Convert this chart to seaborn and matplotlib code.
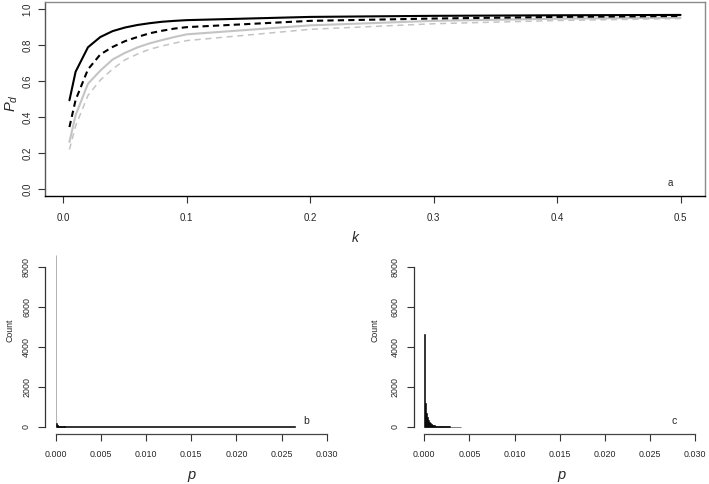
import numpy as np
import pandas as pd
import matplotlib
matplotlib.use("Agg")
import matplotlib.pyplot as plt
import seaborn as sns

sns.set_style("ticks")
plt.rcParams['font.family'] = ['Liberation Sans', 'DejaVu Sans']
plt.rcParams['mathtext.fontset'] = 'custom'
plt.rcParams['mathtext.it'] = 'Liberation Sans:italic'
plt.rcParams['mathtext.rm'] = 'Liberation Sans'

# panel a: detection probability P_d against k, four scenarios
k = [0.005, 0.01, 0.02, 0.03, 0.04, 0.05, 0.06, 0.07, 0.08, 0.09, 0.1, 0.2, 0.3, 0.4, 0.5]
pd_black_solid = [0.493, 0.652, 0.788, 0.845, 0.878, 0.898, 0.912, 0.922, 0.930, 0.935, 0.939, 0.957, 0.963, 0.966, 0.968]
pd_black_dash = [0.344, 0.495, 0.665, 0.748, 0.790, 0.822, 0.845, 0.866, 0.880, 0.892, 0.900, 0.935, 0.948, 0.957, 0.962]
pd_grey_solid = [0.261, 0.410, 0.585, 0.658, 0.720, 0.757, 0.787, 0.810, 0.828, 0.845, 0.860, 0.910, 0.935, 0.947, 0.953]
pd_grey_dash = [0.219, 0.350, 0.520, 0.605, 0.667, 0.718, 0.750, 0.777, 0.795, 0.811, 0.825, 0.888, 0.919, 0.937, 0.948]

# panel b: histogram of p (fine bins near zero, one long near-empty tail bin)
b_bin_width = 0.00005
b_counts = [8600, 180, 120, 90, 70, 55, 45, 38, 32, 27, 23, 20, 17, 15, 13, 12, 11, 10, 9, 8]
b_tail_end = 0.0265
b_tail_count = 10

# panel c: histogram of p
c_bin_width = 0.0001
c_counts = [4650, 1200, 700, 460, 330, 250, 190, 150, 120, 98, 80, 67, 56, 48, 41, 35, 30, 26, 23, 20,
            18, 16, 14, 12, 11, 10, 9, 8, 7, 6, 6, 5, 5, 4, 4, 3, 3, 3, 2, 2, 2]

W, H = 709, 484
fig = plt.figure(figsize=(W / 100, H / 100), dpi=100)


def px_axes(left, top, right, bottom):
	return fig.add_axes([left / W, 1 - bottom / H, (right - left) / W, (bottom - top) / H])


# ---- panel a ----
ax = px_axes(45, 2, 705, 196)
sns.lineplot(x=k, y=pd_grey_dash, ax=ax, color='#c4c4c4', linewidth=1.1, linestyle=(0, (4, 3)))
sns.lineplot(x=k, y=pd_grey_solid, ax=ax, color='#c4c4c4', linewidth=1.5)
sns.lineplot(x=k, y=pd_black_dash, ax=ax, color='black', linewidth=1.5, linestyle=(0, (3, 2)))
sns.lineplot(x=k, y=pd_black_solid, ax=ax, color='black', linewidth=1.5)
ax.set_xlim(-0.0148, 0.5198)
ax.set_ylim(-0.04, 1.04)
ax.set_xticks([0, 0.1, 0.2, 0.3, 0.4, 0.5])
ax.set_xticklabels(['0.0', '0.1', '0.2', '0.3', '0.4', '0.5'])
ax.set_yticks([0, 0.2, 0.4, 0.6, 0.8, 1.0])
ax.set_yticklabels(['0.0', '0.2', '0.4', '0.6', '0.8', '1.0'], rotation=90, va='center')
ax.tick_params(axis='both', length=5, width=0.8, labelsize=7, color='#333333')
ax.tick_params(axis='x', pad=7)
ax.tick_params(axis='y', pad=4)
ax.spines['left'].set_color('#555555')
ax.spines['bottom'].set_color('black')
ax.spines['top'].set_color('#8a8a8a')
ax.spines['right'].set_color('#8a8a8a')
for s in ax.spines.values():
	s.set_linewidth(1.0)
ax.set_xlabel('')
ax.set_ylabel('')
ax.text(0.4917, 0.033, 'a', fontsize=7, ha='center', va='center')
fig.text(356 / W, 1 - 237 / H, '$k$', fontsize=10, ha='center', va='center')
fig.text(12 / W, 1 - 103 / H, '$P_d$', fontsize=10.5, ha='center', va='center', rotation=90)


# ---- panels b and c ----
def hist_panel(ax, edges, counts, label, bar_lw):
	edges = [float(e) for e in edges]
	centers = [(a + b) / 2 for a, b in zip(edges[:-1], edges[1:])]
	df = pd.DataFrame({'p': centers, 'count': counts})
	sns.histplot(data=df, x='p', weights='count', bins=edges, ax=ax, color='black', edgecolor='black',
				 linewidth=bar_lw, alpha=1)
	ax.set_xlim(-0.0012, 0.0312)
	ax.set_ylim(-344, 8944)
	ax.set_xticks([0, 0.005, 0.01, 0.015, 0.02, 0.025, 0.03])
	ax.set_xticklabels(['0.000', '0.005', '0.010', '0.015', '0.020', '0.025', '0.030'])
	ax.set_yticks([0, 2000, 4000, 6000, 8000])
	ax.set_yticklabels(['0', '2000', '4000', '6000', '8000'], rotation=90, va='center')
	ax.tick_params(axis='both', length=5, width=0.8, labelsize=6.4, color='#333333')
	ax.tick_params(axis='x', pad=7)
	ax.tick_params(axis='y', pad=5)
	for side in ['top', 'right']:
		ax.spines[side].set_visible(False)
	ax.spines['left'].set_bounds(0, 8000)
	ax.spines['bottom'].set_bounds(0, 0.03)
	ax.spines['left'].set_color('#333333')
	ax.spines['bottom'].set_color('#444444')
	ax.spines['left'].set_linewidth(0.9)
	ax.spines['bottom'].set_linewidth(0.9)
	ax.set_xlabel('')
	ax.set_ylabel('')
	ax.text(0.0277, 300, label, fontsize=7.5, ha='center', va='center')


b_edges = list(np.arange(len(b_counts) + 1) * b_bin_width) + [b_tail_end]
ax_b = px_axes(45, 248.4, 337.5, 433.5)
hist_panel(ax_b, b_edges, b_counts + [b_tail_count], 'b', 0.4)
ax_b.patches[0].set_facecolor('#777777')
ax_b.patches[0].set_edgecolor('#777777')

c_edges = np.arange(len(c_counts) + 1) * c_bin_width
ax_c = px_axes(413.5, 248.4, 705.8, 433.5)
hist_panel(ax_c, c_edges, c_counts, 'c', 0.4)

for x0 in (10, 375):
	fig.text(x0 / W, 1 - 330 / H, 'Count', fontsize=6.3, ha='center', va='center', rotation=90)
for x0 in (192, 561.7):
	fig.text(x0 / W, 1 - 476 / H, '$p$', fontsize=10.5, ha='center', va='center')

fig.savefig('out.png', dpi=100)
